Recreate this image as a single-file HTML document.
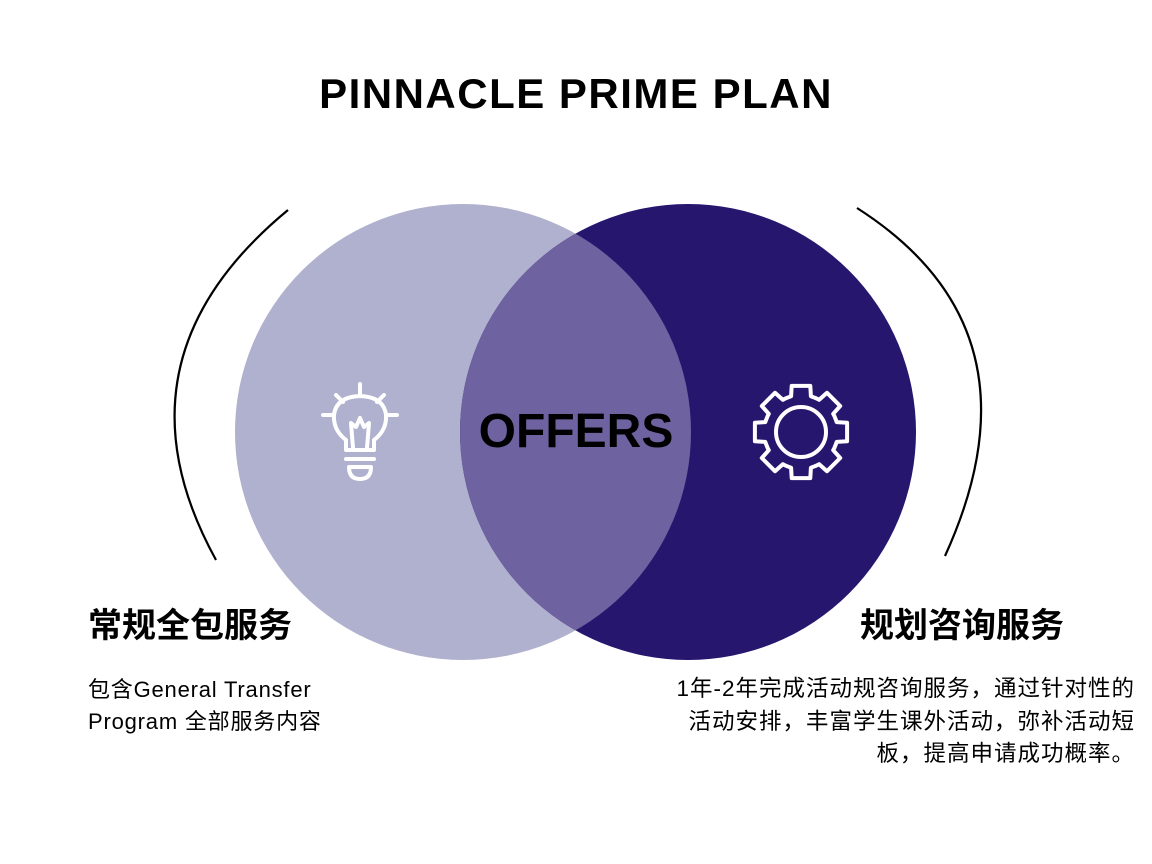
<!DOCTYPE html>
<html><head><meta charset="utf-8"><style>
body{margin:0;width:1152px;height:864px;background:#fff;overflow:hidden;position:relative;font-family:"Liberation Sans","Noto Sans CJK SC",sans-serif;}
.t{position:absolute;white-space:nowrap;color:#000}
</style></head><body>
<svg width="1152" height="864" style="position:absolute;left:0;top:0">
<defs><clipPath id="cl"><circle cx="463" cy="432" r="228"/></clipPath></defs>
<circle cx="463" cy="432" r="228" fill="#b0b0cf"/>
<circle cx="688" cy="432" r="228" fill="#26166e"/>
<circle cx="688" cy="432" r="228" fill="#6e63a0" clip-path="url(#cl)"/>
<path d="M288 210 Q106 360 216 560" fill="none" stroke="#000" stroke-width="2.2"/>
<path d="M857 208 Q1048 330 945 556" fill="none" stroke="#000" stroke-width="2.2"/>
<g stroke="#fff" stroke-width="4" fill="none" stroke-linecap="round" stroke-linejoin="round">
<line x1="360" y1="384" x2="360" y2="394"/>
<line x1="336" y1="395" x2="343" y2="402"/>
<line x1="384" y1="395" x2="377" y2="402"/>
<line x1="323" y1="415" x2="333" y2="415"/>
<line x1="387" y1="415" x2="397" y2="415"/>
<path d="M346 450 L346 440 Q333 430 334 415 Q336 397 360 396 Q384 397 386 415 Q387 430 374 440 L374 450 Z"/>
<path d="M353 448 L351 423 L356 427 L360 418 L364 427 L369 423 L367 448"/>
<line x1="346" y1="459" x2="374" y2="459"/>
<path d="M349 467 L371 467 Q371 479 360 479 Q349 479 349 467 Z"/>
<circle cx="801" cy="432" r="25"/>
<path id="gear"/>
</g>
</svg>
<div class="t" style="left:0;width:1152px;text-align:center;top:70px;font-size:42px;font-weight:bold;letter-spacing:1.5px">PINNACLE PRIME PLAN</div>
<div class="t" style="left:0;width:1152px;text-align:center;top:404px;font-size:48px;font-weight:bold;">OFFERS</div>
<div class="t" style="left:88px;top:598px;font-size:34px;font-weight:bold">常规全包服务</div>
<div class="t" style="left:88px;top:674px;font-size:22px;line-height:32px;letter-spacing:0.8px">包含General Transfer<br>Program 全部服务内容</div>
<div class="t" style="left:860px;top:598px;font-size:34px;font-weight:bold">规划咨询服务</div>
<div class="t" style="right:17px;top:673px;font-size:22.5px;line-height:32.5px;text-align:right;letter-spacing:1px">1年-2年完成活动规咨询服务，通过针对性的<br>活动安排，丰富学生课外活动，弥补活动短<br>板，提高申请成功概率。</div>
<script>
(function(){var cx=801,cy=432,R=47,r=37,n=8,d="";
for(var i=0;i<n;i++){var a=i*2*Math.PI/n;var w=0.2,w2=0.27;
var pts=[[r,a-Math.PI/n+0.05],[r,a-w2],[R,a-w],[R,a+w],[r,a+w2],[r,a+Math.PI/n-0.05]];
pts.forEach(function(p,j){var x=cx+p[0]*Math.cos(p[1]),y=cy+p[0]*Math.sin(p[1]);d+=(i==0&&j==0?"M":"L")+x.toFixed(1)+" "+y.toFixed(1)+" ";});}
document.getElementById("gear").setAttribute("d",d+"Z");})();
</script>
</body></html>
